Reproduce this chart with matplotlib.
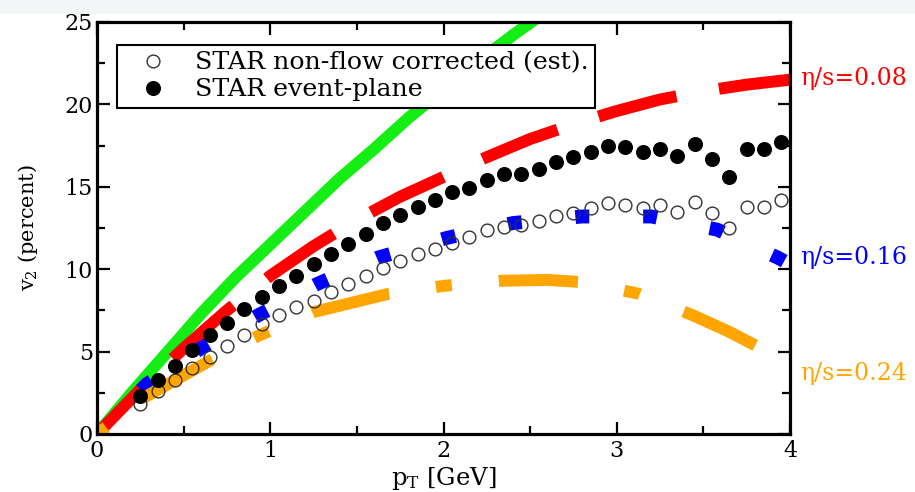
import matplotlib
matplotlib.use("Agg")
import matplotlib.pyplot as plt
from matplotlib.patches import Rectangle

# ---------------- data ----------------
pt_star = [0.25, 0.35, 0.45, 0.55, 0.65, 0.75, 0.85, 0.95, 1.05, 1.15,
           1.25, 1.35, 1.45, 1.55, 1.65, 1.75, 1.85, 1.95, 2.05, 2.15,
           2.25, 2.35, 2.45, 2.55, 2.65, 2.75, 2.85, 2.95, 3.05, 3.15,
           3.25, 3.35, 3.45, 3.55, 3.65, 3.75, 3.85, 3.95]
v2_event_plane = [2.3, 3.3, 4.1, 5.1, 6.0, 6.75, 7.6, 8.3, 9.0, 9.6,
                  10.3, 10.95, 11.55, 12.15, 12.8, 13.3, 13.8, 14.2, 14.7, 14.9,
                  15.4, 15.8, 15.8, 16.1, 16.5, 16.8, 17.1, 17.5, 17.4, 17.1,
                  17.3, 16.85, 17.6, 16.7, 15.6, 17.3, 17.3, 17.7]
v2_nonflow = [1.8, 2.6, 3.3, 4.0, 4.7, 5.35, 6.0, 6.7, 7.2, 7.7,
              8.1, 8.6, 9.1, 9.6, 10.1, 10.5, 10.95, 11.25, 11.6, 11.95,
              12.35, 12.55, 12.7, 12.9, 13.2, 13.4, 13.7, 14.0, 13.9, 13.7,
              13.9, 13.5, 14.1, 13.4, 12.5, 13.8, 13.8, 14.2]

pt_ideal = [0.0, 0.2, 0.4, 0.6, 0.8, 1.0, 1.2, 1.4, 1.6, 1.8, 2.0, 2.2, 2.4, 2.6, 2.7]
v2_ideal = [0.0, 2.5, 4.9, 7.3, 9.5, 11.5, 13.5, 15.5, 17.3, 19.2, 20.9, 22.6, 24.2, 25.7, 26.4]

pt_008 = [0.0, 0.25, 0.5, 0.75, 1.0, 1.25, 1.5, 1.75, 2.0, 2.25, 2.5, 2.75, 3.0, 3.25, 3.5, 3.75, 4.0]
v2_008 = [0.0, 2.7, 5.2, 7.5, 9.6, 11.4, 13.0, 14.4, 15.6, 16.8, 17.9, 18.8, 19.6, 20.3, 20.8, 21.2, 21.5]

pt_016 = [0.0, 0.29, 0.6, 0.93, 1.27, 1.62, 2.02, 2.4, 2.8, 3.2, 3.58, 3.93, 4.0]
v2_016 = [0.0, 3.05, 5.2, 7.2, 9.1, 10.7, 11.9, 12.8, 13.2, 13.2, 12.4, 10.7, 10.3]

pt_024 = [0.0, 0.27, 0.66, 0.94, 1.25, 1.68, 2.01, 2.34, 2.6, 2.82, 3.13, 3.44, 3.65, 3.85]
v2_024 = [0.0, 2.2, 4.5, 6.0, 7.4, 8.5, 9.0, 9.3, 9.35, 9.2, 8.5, 7.2, 6.2, 5.1]

legend_labels = ["STAR non-flow corrected (est).", "STAR event-plane"]
curve_labels = ["\u03b7/s=0.08", "\u03b7/s=0.16", "\u03b7/s=0.24"]
curve_label_y = [21.6, 10.7, 3.7]
x_ticks = [0, 1, 2, 3, 4]
y_ticks = [0, 5, 10, 15, 20, 25]

# ---------------- style ----------------
plt.rcParams['font.family'] = ['DejaVu Serif']
plt.rcParams['lines.scale_dashes'] = False
plt.rcParams['mathtext.fontset'] = 'dejavuserif'

GREEN = '#14ee14'
RED = '#ff0000'
BLUE = '#0000ff'
ORANGE = '#ffa500'

fig = plt.figure(figsize=(9.15, 4.92), dpi=100)
fig.patches.append(Rectangle((0, 1 - 14 / 492), 1, 14 / 492, transform=fig.transFigure,
                             facecolor='#f3f6f6', edgecolor='none', zorder=-10))
ax = fig.add_axes([97 / 915, 58 / 492, 693 / 915, 412 / 492])

lw = 8.6
ax.plot(pt_ideal, v2_ideal, color=GREEN, lw=lw, solid_capstyle='butt', zorder=2)
ax.plot(pt_008, v2_008, color=RED, lw=lw, linestyle=(12.0, (58.0, 31.0)),
        dash_capstyle='butt', zorder=2)
ax.plot(pt_016, v2_016, color=BLUE, lw=10, linestyle=(4.0, (10.0, 38.8)),
        dash_capstyle='butt', zorder=2)
ax.plot(pt_024, v2_024, color=ORANGE, lw=lw, linestyle=(94.3, (57.0, 34.0, 11.5, 34.0)),
        dash_capstyle='butt', zorder=2)

h1, = ax.plot(pt_star, v2_nonflow, linestyle='none', marker='o', ms=9.2,
              markerfacecolor='none', markeredgecolor='#333333', markeredgewidth=1.0, zorder=4)
h2, = ax.plot(pt_star, v2_event_plane, linestyle='none', marker='o', ms=9.8,
              markerfacecolor='black', markeredgecolor='black', zorder=4)

leg = ax.legend([h1, h2], legend_labels, loc='upper left', bbox_to_anchor=(0.029, 0.944),
                borderaxespad=0, fancybox=False, framealpha=1, edgecolor='black',
                fontsize=18.2, handlelength=2.35, handletextpad=0.5, labelspacing=0.16,
                borderpad=0.25, numpoints=1)
leg.get_frame().set_linewidth(1.5)
leg.set_zorder(5)

for lab, yv, col in zip(curve_labels, curve_label_y, [RED, BLUE, ORANGE]):
    ax.text(4.058, yv, lab, color=col, fontsize=17, ha='left', va='center', clip_on=False)

ax.set_xlim(0, 4)
ax.set_ylim(0, 25)
ax.set_xticks(x_ticks)
ax.set_yticks(y_ticks)
ax.set_xticks([0.5, 1.5, 2.5, 3.5], minor=True)
ax.set_yticks([2.5, 7.5, 12.5, 17.5, 22.5], minor=True)
ax.tick_params(which='both', direction='in', top=True, right=True, width=1.6, labelsize=16)
ax.tick_params(which='major', length=9)
ax.tick_params(which='minor', length=5.5)
ax.tick_params(axis='x', pad=4)
ax.tick_params(axis='y', pad=3)
for s in ax.spines.values():
    s.set_linewidth(2.3)

ax.set_xlabel(r'p$_{\rm T}$ [GeV]', fontsize=17.5)
ax.set_ylabel(r'v$_2$ (percent)', fontsize=15)
ax.xaxis.set_label_coords(0.5, -0.075)
ax.yaxis.set_label_coords(-0.082, 0.5)

fig.savefig('out.png', dpi=100)
